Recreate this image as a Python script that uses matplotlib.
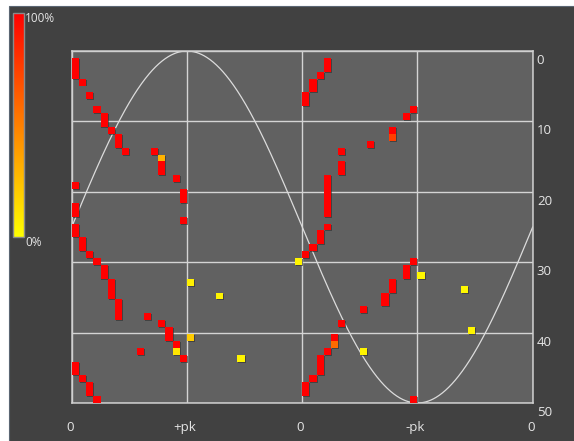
import numpy as np
import matplotlib
matplotlib.use('Agg')
import matplotlib.pyplot as plt
import matplotlib.patheffects as pe
from matplotlib.colors import LinearSegmentedColormap, Normalize
from matplotlib.patches import Rectangle
from matplotlib.transforms import ScaledTranslation
import matplotlib as mpl

plt.rcParams['font.family'] = ['Open Sans', 'DejaVu Sans']

# phase bins (64 over one cycle) and amplitude bins (51 over 0..50)
N_PHASE = 64
N_AMP = 51

# one entry per lit cell: phase bin, amplitude bin, relative count (%)
cell_phase = [0, 0, 0, 0, 0, 0, 0, 0, 0, 0,
              1, 1, 1, 1,
              2, 2, 2, 2,
              3, 3, 3,
              4, 4, 4, 4,
              5, 5, 5, 5,
              6, 6, 6, 6, 6,
              7, 9, 10, 11,
              12, 12, 12, 12,
              13, 13,
              14, 14, 14,
              15, 15, 15, 15,
              16, 16, 20, 23, 31,
              32, 32, 32, 32, 32,
              33, 33, 33, 33,
              34, 34, 34, 34, 34, 34,
              35, 35, 35, 35, 35, 35, 35, 35, 35, 35,
              36, 36,
              37, 37, 37, 37,
              40, 40, 41,
              43, 43,
              44, 44, 44, 44,
              46, 46, 46,
              47, 47, 47,
              48, 54, 55]
cell_amp = [1, 2, 3, 19, 22, 23, 25, 26, 45, 46,
            4, 27, 28, 47,
            6, 29, 48, 49,
            8, 30, 50,
            9, 10, 31, 32,
            11, 33, 34, 35,
            12, 13, 36, 37, 38,
            14, 43, 38, 14,
            15, 16, 17, 39,
            40, 41,
            18, 42, 43,
            20, 21, 24, 44,
            33, 41, 35, 44, 30,
            6, 7, 29, 48, 49,
            4, 5, 28, 47,
            3, 26, 27, 44, 45, 46,
            1, 2, 18, 19, 20, 21, 22, 23, 25, 43,
            41, 42,
            14, 16, 17, 39,
            37, 43, 13,
            35, 36,
            11, 12, 33, 34,
            9, 31, 32,
            8, 30, 50,
            32, 34, 40]
cell_pct = [100, 100, 100, 100, 100, 100, 100, 100, 100, 100,
            100, 100, 100, 100,
            100, 100, 100, 100,
            100, 100, 100,
            100, 100, 100, 100,
            100, 100, 100, 100,
            100, 100, 100, 100, 100,
            100, 100, 100, 100,
            30, 100, 100, 100,
            100, 100,
            100, 100, 10,
            100, 100, 100, 100,
            6, 20, 4, 4, 4,
            100, 100, 100, 100, 100,
            100, 100, 100, 100,
            100, 100, 100, 100, 100, 100,
            100, 100, 100, 100, 100, 100, 100, 100, 100, 100,
            100, 58,
            100, 100, 100, 100,
            100, 4, 100,
            100, 100,
            100, 75, 100, 100,
            100, 100, 100,
            100, 100, 100,
            3, 3, 4]

x_ticks = [0, 90, 180, 270, 360]
x_labels = ['0', '+pk', '0', '-pk', '0']
y_ticks = [0, 10, 20, 30, 40, 50]

cmap = LinearSegmentedColormap.from_list('pd', ['#ffff00', '#ff0000'])
norm = Normalize(0, 100)

fig = plt.figure(figsize=(5.74, 4.41), dpi=100, facecolor='white')
fig.patches.append(Rectangle((9 / 574, 0), 1, 435 / 441, transform=fig.transFigure,
                             facecolor='#414141', edgecolor='#5b6673', lw=0.8, zorder=-10))

ax = fig.add_axes([71.7 / 574, 38 / 441, 461 / 574, 352 / 441])
ax.set_facecolor('#616161')
ax.set_xlim(0, 360)
ax.set_ylim(50, 0)

# reference voltage sine
phase = np.linspace(0, 360, 721)
ax.plot(phase, 25 - 25 * np.sin(np.radians(phase)), color='#dcdcdc', lw=0.9, zorder=2)

w = 360 / N_PHASE
h = 50 / N_AMP
bars = ax.bar(np.array(cell_phase) * w, h, bottom=np.array(cell_amp) * h, width=w,
              align='edge', color=cmap(norm(np.array(cell_pct))), linewidth=0, zorder=3)
for b in bars:
    b.set_path_effects([pe.SimplePatchShadow(offset=(0.7, -0.7), shadow_rgbFace='#2e2e2e', alpha=0.6),
                        pe.Normal()])

ax.set_xticks(x_ticks)
ax.set_xticklabels(x_labels)
ax.set_yticks(y_ticks)
ax.set_yticklabels([str(v) for v in y_ticks])
ax.yaxis.tick_right()
ax.grid(True, color='#d4d4d4', lw=1.0, zorder=1)
ax.set_axisbelow(True)
ax.tick_params(length=0, labelcolor='#e6e6e6', labelsize=9.5)
ax.tick_params(axis='x', pad=13)
ax.tick_params(axis='y', pad=3)
for lbl in ax.get_yticklabels():
    lbl.set_transform(lbl.get_transform() + ScaledTranslation(0, -8 / 100, fig.dpi_scale_trans))
for lbl in ax.get_xticklabels():
    lbl.set_transform(lbl.get_transform() + ScaledTranslation(-2 / 100, 0, fig.dpi_scale_trans))
for s in ax.spines.values():
    s.set_color('#cfcfcf')
    s.set_linewidth(1.1)

# colour scale at top left
cax = fig.add_axes([13.3 / 574, 204 / 441, 10.7 / 574, 224.3 / 441])
cb = fig.colorbar(mpl.cm.ScalarMappable(norm=norm, cmap=cmap), cax=cax)
cb.set_ticks([])
cb.outline.set_edgecolor('#8a8a8a')
cb.outline.set_linewidth(1.0)
fig.text(25 / 574, 1 - 19 / 441, '100%', color='#e6e6e6', fontsize=8.5, va='center', ha='left')
fig.text(25 / 574, 1 - 242 / 441, '0%', color='#e6e6e6', fontsize=8.5, va='center', ha='left')

fig.savefig('out.png', dpi=100, facecolor=fig.get_facecolor())
